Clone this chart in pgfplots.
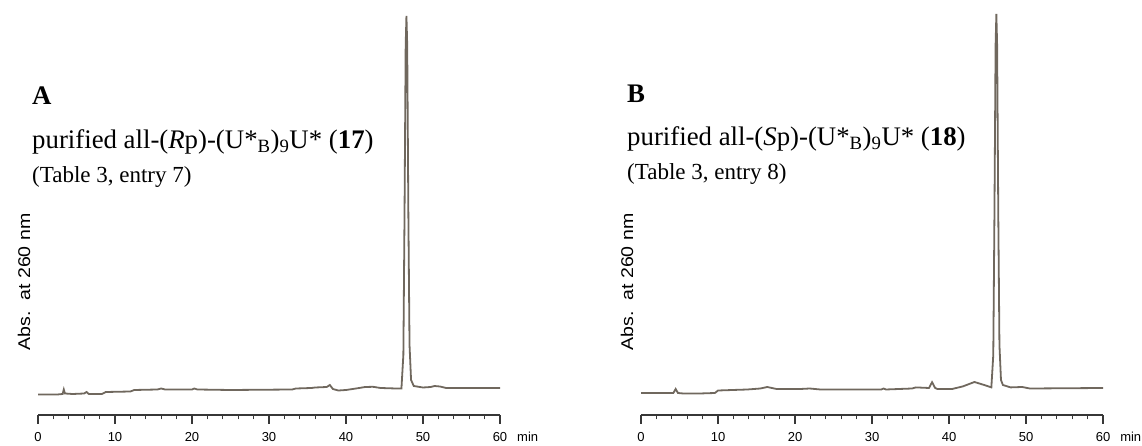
\documentclass[border=0pt]{standalone}
\usepackage{pgfplots}
\pgfplotsset{compat=1.18}
\usepackage{graphicx}
\usepackage{fontspec}
\setmainfont{Liberation Serif}
\setsansfont{Liberation Sans}
\definecolor{trace}{RGB}{112,104,94}
\definecolor{axisgray}{RGB}{55,55,55}

\pgfplotsset{
  chrom/.style={
    scale only axis, width=462pt, height=400pt,
    anchor=south west,
    xmin=0, xmax=60, ymin=0, ymax=400,
    axis x line*=bottom, axis y line=none,
    axis line style={axisgray, line width=1.3pt, -},
    xtick={0,10,...,60}, minor x tick num=4,
    tick align=outside,
    major tick length=9pt, minor tick length=4.5pt,
    every tick/.style={axisgray, line width=1.2pt},
    xticklabel style={anchor=base, yshift=-18pt, font=\fontsize{13}{15}\selectfont\sffamily},
    /pgf/number format/assume math mode=true,
    clip=false,
  }
}

\begin{document}
\begin{tikzpicture}
\path[use as bounding box] (0,0) rectangle (1142pt,446pt);

% panel A
\begin{axis}[chrom, at={(38pt,31pt)}]
\addplot[trace, line width=1.8pt] coordinates {
(0,20.5)(2.5,20.5)(3.2,21)(3.35,25.5)(3.5,21.5)(4.5,21)(6,21.5)(6.3,23)(6.6,21)
(8.3,21)(8.8,23)(12,23.5)(12.5,25)(15.5,25.5)(16,26.5)(16.5,25.5)(20,25.5)
(20.3,26.5)(20.7,25.5)(25,25)(33,25.5)(33.5,26.5)(35.5,27)(36,27.5)(37.5,28)
(37.9,30)(38.3,26)(39,24.5)(40,25)(41.3,26.5)(42.5,28)(43.5,28.2)(44.5,27)
(46.5,26.5)(47.2,26.5)(47.45,60)(47.6,200)(47.75,370)(47.85,399)(47.95,370)
(48.1,200)(48.25,70)(48.45,35)(48.8,29)(50,27.5)(51,28)(51.5,29)(52.2,28.5)
(53,27)(60,27)
};
\node[anchor=base, font=\fontsize{13}{15}\selectfont\sffamily] at (axis cs:63.6,0) [yshift=-27pt] {min};
\end{axis}

% panel B
\begin{axis}[chrom, at={(641pt,31pt)}]
\addplot[trace, line width=1.8pt] coordinates {
(0,22)(4.2,22)(4.5,26)(4.8,22)(5.5,21.5)(7.6,21.5)(9.6,22)(10,24.5)(13.8,25.5)
(15.5,26.5)(16.4,28)(17.6,26)(20.7,26)(21.9,26.5)(23.3,25.5)(31.2,25.5)(31.5,26.5)
(31.8,25.5)(35.2,26.5)(35.7,27.6)(37.4,27)(37.8,32.8)(38.2,27)(38.5,26)(40.4,26)
(41.8,28.6)(43.3,33)(44.7,29.7)(45.5,27.6)(45.75,60)(45.9,200)(46.05,370)
(46.15,401)(46.25,370)(46.4,200)(46.55,70)(46.75,35)(47,30)(48,27.6)(49.5,28)
(50.5,26.5)(60,27)
};
\node[anchor=base, font=\fontsize{13}{15}\selectfont\sffamily] at (axis cs:63.6,0) [yshift=-27pt] {min};
\end{axis}

% y labels
\node[rotate=90, font=\fontsize{17}{19}\selectfont\sffamily] at (24pt,164pt) {\scalebox{1.15}[1]{Abs.\ \ at 260 nm}};
\node[rotate=90, font=\fontsize{17}{19}\selectfont\sffamily] at (627pt,164pt) {\scalebox{1.15}[1]{Abs.\ \ at 260 nm}};

% panel titles
\node[anchor=base west, inner sep=0pt, font=\fontsize{26.8}{30}\selectfont\bfseries] at (32pt,341pt) {A};
\node[anchor=base west, inner sep=0pt, font=\fontsize{26.8}{30}\selectfont] at (32pt,297pt) {purified all-(\textit{R}p)-(U*\textsubscript{B})\textsubscript{9}U* (\textbf{17})};
\node[anchor=base west, inner sep=0pt, font=\fontsize{23}{26}\selectfont] at (32pt,263pt) {(Table 3, entry 7)};

\node[anchor=base west, inner sep=0pt, font=\fontsize{26.8}{30}\selectfont\bfseries] at (627pt,343pt) {B};
\node[anchor=base west, inner sep=0pt, font=\fontsize{26.8}{30}\selectfont] at (627pt,300pt) {purified all-(\textit{S}p)-(U*\textsubscript{B})\textsubscript{9}U* (\textbf{18})};
\node[anchor=base west, inner sep=0pt, font=\fontsize{23}{26}\selectfont] at (627pt,266pt) {(Table 3, entry 8)};
\end{tikzpicture}
\end{document}
